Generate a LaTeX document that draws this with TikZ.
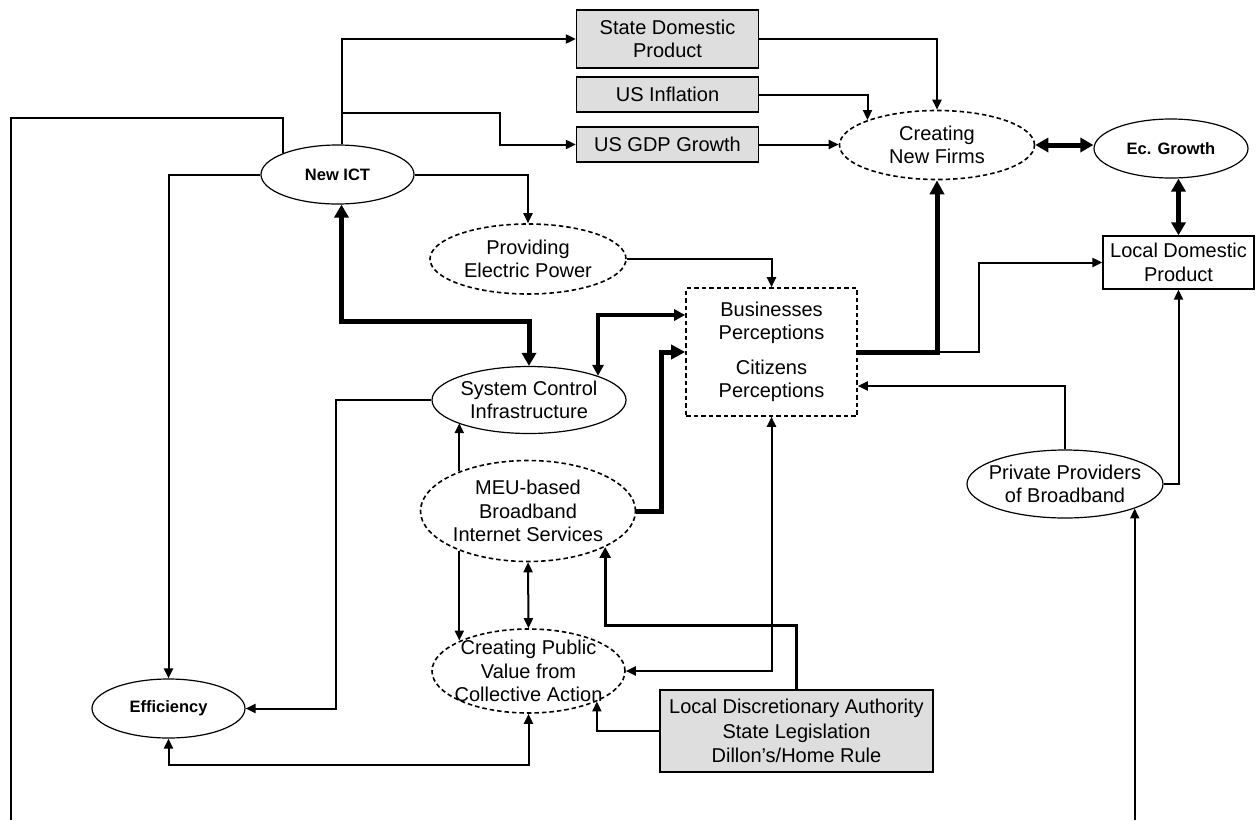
\documentclass[tikz,border=0pt]{standalone}
\usepackage{fontspec}
\setmainfont{Liberation Sans}
\usetikzlibrary{shapes.geometric,arrows.meta,calc}
\definecolor{boxgray}{RGB}{222,222,222}

\begin{document}
\begin{tikzpicture}[x=1pt,y=-1pt,
  txt/.style={font=\fontsize{20}{23.5}\selectfont, align=center, inner sep=0pt},
  ltxt/.style={font=\fontsize{20}{24.5}\selectfont, align=center, inner sep=0pt},
  btxt/.style={font=\fontsize{16.5}{19}\selectfont\bfseries, align=center, inner sep=0pt},
  oval/.style={ellipse, draw, line width=1.2pt, inner sep=0pt},
  doval/.style={ellipse, draw, line width=1.6pt, dash pattern=on 4.5pt off 3pt, inner sep=0pt},
  gbox/.style={rectangle, draw, fill=boxgray, line width=1.3pt, inner sep=0pt},
  wbox/.style={rectangle, draw, line width=1.3pt, inner sep=0pt},
  dbox/.style={rectangle, draw, line width=1.6pt, dash pattern=on 4.5pt off 3pt, inner sep=0pt},
  link/.style={line width=2pt},
  arr/.style={link, -{Triangle[length=10pt,width=9pt]}},
  darr/.style={link, {Triangle[length=10pt,width=9pt]}-{Triangle[length=10pt,width=9pt]}},
  marr/.style={line width=3pt, -{Triangle[length=11pt,width=11pt]}},
  mdarr/.style={line width=3.3pt, {Triangle[length=11pt,width=11pt]}-{Triangle[length=11pt,width=11pt]}},
  tarr/.style={line width=5pt, -{Triangle[length=14pt,width=14pt]}},
  tdarr/.style={line width=5pt, {Triangle[length=13pt,width=14pt]}-{Triangle[length=13pt,width=14pt]}},
]
\useasboundingbox (0,0) rectangle (1256,820);

% ---- exogenous inputs (grey boxes)
\node[gbox, txt, minimum width=182pt, minimum height=58pt] (sdp) at (667.5,39) {State Domestic\\Product};
\node[gbox, txt, minimum width=182pt, minimum height=35pt] (usi) at (667.5,94.5) {US Inflation};
\node[gbox, txt, minimum width=182pt, minimum height=35pt] (usgdp) at (667.5,144.5) {US GDP Growth};
\node[gbox, ltxt, minimum width=273pt, minimum height=82pt] (lda) at (796.5,731) {Local Discretionary Authority\\State Legislation\\Dillon’s/Home Rule};

% ---- outcome nodes
\node[doval, minimum width=195pt, minimum height=69pt, label={[txt]center:{Creating\\New Firms}}] (cnf) at (937,145) {};
\node[oval, minimum width=154pt, minimum height=59pt, label={[btxt]center:{Ec. Growth}}] (ecg) at (1171,148.5) {};
\node[wbox, txt, minimum width=151pt, minimum height=53pt] (ldp) at (1178.5,262.5) {Local Domestic\\Product};
\node[oval, minimum width=153pt, minimum height=59pt, label={[btxt]center:{New ICT}}] (newict) at (337.5,174.5) {};
\node[doval, minimum width=196pt, minimum height=70pt, label={[txt]center:{Providing\\Electric Power}}] (pep) at (528,259) {};
\node[dbox, txt, minimum width=171pt, minimum height=128pt] (perc) at (771.5,352) {Businesses\\Perceptions\\[11pt]Citizens\\Perceptions};
\node[oval, minimum width=194pt, minimum height=67pt, label={[txt]center:{System Control\\Infrastructure}}] (sci) at (529,400) {};
\node[doval, minimum width=215pt, minimum height=101pt, label={[txt]center:{MEU-based\\Broadband\\Internet Services}}] (meu) at (528,511) {};
\node[doval, minimum width=193pt, minimum height=84pt, label={[txt]center:{Creating Public\\Value from\\Collective Action}}] (cpv) at (528.5,671) {};
\node[oval, minimum width=153pt, minimum height=59pt, label={[btxt]center:{Efficiency}}] (eff) at (168.5,708.5) {};
\node[oval, minimum width=196pt, minimum height=68pt, label={[txt]center:{Private Providers\\of Broadband}}] (ppb) at (1065,484) {};

% ---- open ends of the long loop along the bottom
\coordinate (lfoot) at (11,820);
\coordinate (rfoot) at (ppb.south east |- 0,820);

% ---- New ICT
\draw[arr] ($(newict.north)+(4,0)$) |- (sdp.west);
\draw[arr] ($(newict.north)+(4,-31)$) -- ++(158.5,0) |- (usgdp.west);
\draw[link] (newict.north west) |- (lfoot |- 0,118) -- (lfoot);
\draw[arr] (newict.west) -| (eff.north);
\draw[arr] (newict.east) -| (pep.north);
\draw[tdarr] ($(newict.south)+(4,0)$) |- ($(sci.north)+(0,-44)$) -- (sci.north);

% ---- inputs to firm creation
\draw[arr] (sdp.east) -| (cnf.north);
\draw[arr] (usi.east) -| (cnf.north west);
\draw[arr] (usgdp.east) -- (usgdp.east -| cnf.west);
\draw[tdarr] (cnf.east) -- (cnf.east -| ecg.west);
\draw[tdarr] (ldp.north) -- (ldp.north |- ecg.south);

% ---- perceptions
\draw[arr] (pep.east) -| (perc.north);
\draw[mdarr] (sci.north east) |- ($(perc.west)+(0,-37)$);
\draw[tarr] (meu.east) -- ++(25,0) |- (perc.west);
\draw[tarr] (perc.east) -| (cnf.south);
\draw[arr] (perc.east -| cnf.south) -- ++(42,0) |- (ldp.west);
\draw[arr] (ppb.north) |- ($(perc.east)+(0,34)$);
\draw[arr] (ppb.east) -| (ldp.south);
\draw[arr] (rfoot) -- (ppb.south east);

% ---- infrastructure, services and public value
\draw[arr] (sci.west) -- ++(-95,0) |- (eff.east);
\draw[arr] (meu.150) -- (meu.150 |- sci.198);
\draw[arr] (meu.210) -- (meu.210 |- cpv.156);
\draw[darr] (meu.south) -- (cpv.north);
\draw[marr] (lda.north) -- ++(0,-64) -| (meu.-25);
\draw[darr] (cpv.east) -| (perc.south);
\draw[arr] (lda.west) -| (cpv.-24);
\draw[darr] (eff.south) -- ++(0,26) -| (cpv.south);
\end{tikzpicture}
\end{document}
